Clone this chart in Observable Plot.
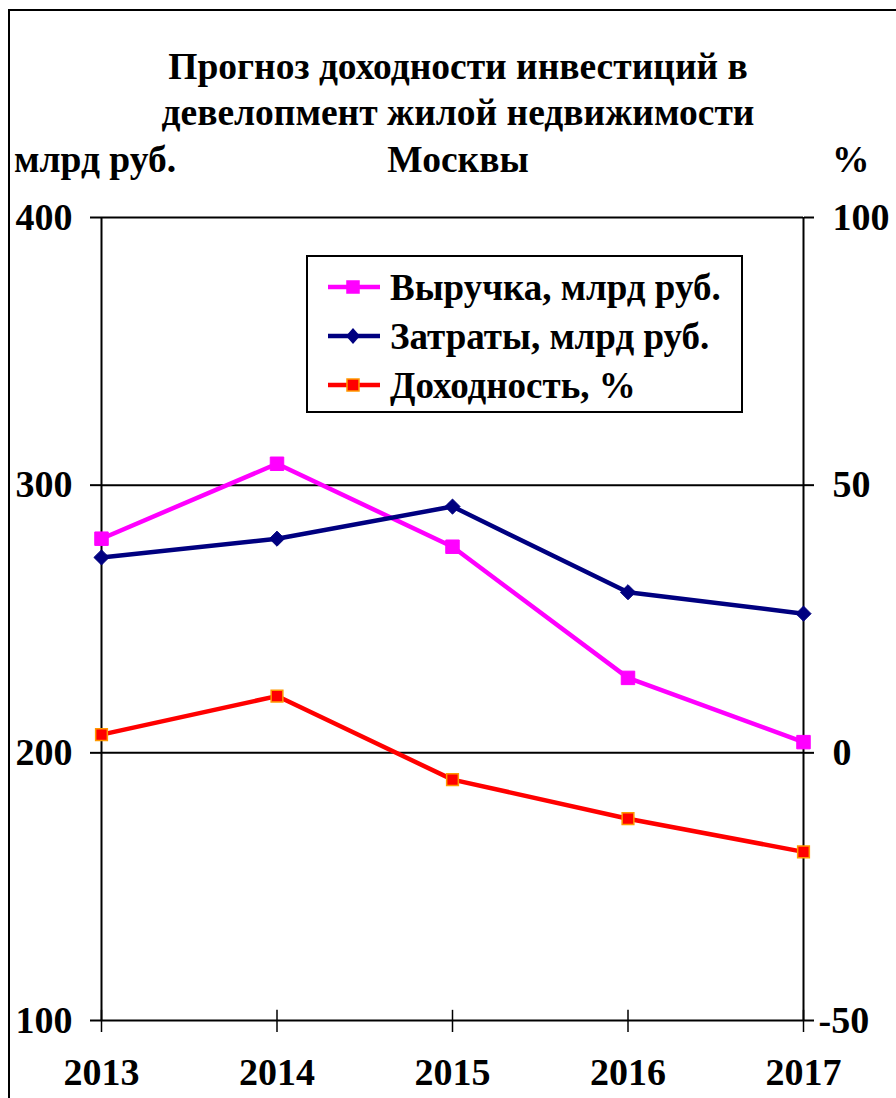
<!DOCTYPE html>
<html><head><meta charset="utf-8">
<script src="https://cdn.jsdelivr.net/npm/d3@7"></script>
<script src="https://cdn.jsdelivr.net/npm/@observablehq/plot@0.6"></script>
<style>
body{margin:0;background:#fff;font-family:"Liberation Serif","Times New Roman",serif;font-weight:bold;}
#wrap{position:relative;width:896px;height:1098px;overflow:hidden;background:#fff}
#frame{position:absolute;left:8px;top:9px;width:900px;height:1100px;border-left:2px solid #000;border-top:2px solid #000;}
.t{position:absolute;white-space:nowrap;font-size:37.5px;line-height:1;color:#000}
#chart{position:absolute;left:0;top:0}
#legend{position:absolute;left:306px;top:255px;width:433px;height:154px;border:2px solid #000;background:#fff}
.li{position:absolute;left:0;height:40px;display:flex;align-items:center}
.li svg{margin-left:20px;margin-right:10px}
.li span{font-size:37px;font-weight:bold}
</style></head><body><div id="wrap">
<div id="chart"></div>
<div id="frame"></div>
<div class="t" style="left:0;width:916px;text-align:center;top:48px">Прогноз доходности инвестиций в</div>
<div class="t" style="left:0;width:916px;text-align:center;top:94px">девелопмент жилой недвижимости</div>
<div class="t" style="left:0;width:916px;text-align:center;top:141px">Москвы</div>
<div class="t" style="left:14px;top:141px">млрд руб.</div>
<div class="t" style="left:832px;top:141px">%</div>
<div id="legend"></div>
</div>
<script>
const years = [2013, 2014, 2015, 2016, 2017];
const revenue = [280, 308, 277, 228, 204];       // Выручка, млрд руб.
const costs = [273, 280, 292, 260, 252];         // Затраты, млрд руб.
const yieldPct = [3.4, 10.6, -5.0, -12.3, -18.5]; // Доходность, %
const leftTicks = [100, 200, 300, 400];
const rightTicks = [-50, 0, 50, 100];
const seriesNames = ["Выручка, млрд руб.", "Затраты, млрд руб.", "Доходность, %"];

// right axis (%) mapped onto left scale: -50 -> 100, 100 -> 400
const pctToLeft = p => 200 + 2 * p;

const rev = years.map((x, i) => ({x, y: revenue[i]}));
const cst = years.map((x, i) => ({x, y: costs[i]}));
const yld = years.map((x, i) => ({x, y: pctToLeft(yieldPct[i])}));

const font = {fontSize: "38px", fontWeight: "bold", fill: "#000"};
const lastYear = years[years.length - 1];
const chart = Plot.plot({
  width: 896, height: 1098,
  marginLeft: 101, marginRight: 93, marginTop: 217, marginBottom: 78,
  style: {fontFamily: '"Liberation Serif", "Times New Roman", serif', background: "transparent", color: "#000"},
  x: {domain: [2013, 2017]},
  y: {domain: [100, 400]},
  marks: [
    Plot.ruleY(leftTicks, {stroke: "#000", strokeWidth: 2}),
    Plot.ruleX([2013, 2017], {stroke: "#000", strokeWidth: 2}),
    Plot.ruleX(years, {y1: 100, y2: 103.8, stroke: "#000", strokeWidth: 1.5}),
    Plot.axisY({ticks: leftTicks, anchor: "left", tickSize: 11, tickPadding: 18, tickFormat: d => d, label: null, strokeWidth: 2, ...font}),
    Plot.axisY({ticks: rightTicks.map(pctToLeft), anchor: "right", tickSize: 10, tickFormat: () => "", label: null, strokeWidth: 2}),
    Plot.text(rightTicks.filter(d => d >= 0), {x: () => lastYear, y: d => pctToLeft(d), text: d => String(d), dx: 29, textAnchor: "start", ...font}),
    Plot.text(rightTicks.filter(d => d < 0), {x: () => lastYear, y: d => pctToLeft(d), text: d => String(d), dx: 15, textAnchor: "start", ...font}),
    Plot.axisX({ticks: years, anchor: "bottom", tickSize: 12, tickPadding: 26, tickFormat: d => String(d), label: null, strokeWidth: 1.5, ...font}),
    Plot.line(rev, {x: "x", y: "y", stroke: "#ff00ff", strokeWidth: 4.5}),
    Plot.line(cst, {x: "x", y: "y", stroke: "#000080", strokeWidth: 4.5}),
    Plot.line(yld, {x: "x", y: "y", stroke: "#ff0000", strokeWidth: 4.5}),
    Plot.dot(rev, {x: "x", y: "y", symbol: "square", r: 7.6, fill: "#ff00ff", stroke: "#ff00ff", strokeWidth: 1}),
    Plot.dot(cst, {x: "x", y: "y", symbol: "diamond2", r: 6.8, fill: "#000080", stroke: "#000080", strokeWidth: 1}),
    Plot.dot(yld, {x: "x", y: "y", symbol: "square", r: 6.6, fill: "#ff0000", stroke: "#ff9900", strokeWidth: 1.5})
  ]
});
document.getElementById("chart").appendChild(chart);

// legend
const legendStyles = [
  {stroke: "#ff00ff", fill: "#ff00ff", mstroke: "#ff00ff", sym: "sq"},
  {stroke: "#000080", fill: "#000080", mstroke: "#000080", sym: "di"},
  {stroke: "#ff0000", fill: "#ff0000", mstroke: "#ff9900", sym: "sq"}
];
const leg = document.getElementById("legend");
seriesNames.forEach((name, i) => {
  const s = legendStyles[i];
  const row = document.createElement("div");
  row.className = "li";
  row.style.top = (10 + i * 49) + "px";
  const marker = s.sym === "sq"
    ? `<rect x="19" y="5" width="12" height="12" fill="${s.fill}" stroke="${s.mstroke}" stroke-width="1.5"/>`
    : `<path d="M25,3 L32,11 L25,19 L18,11 Z" fill="${s.fill}"/>`;
  row.innerHTML = `<svg width="52" height="22"><line x1="0" y1="11" x2="52" y2="11" stroke="${s.stroke}" stroke-width="4.5"/>${marker}</svg><span>${name}</span>`;
  leg.appendChild(row);
});
</script>
</body></html>
